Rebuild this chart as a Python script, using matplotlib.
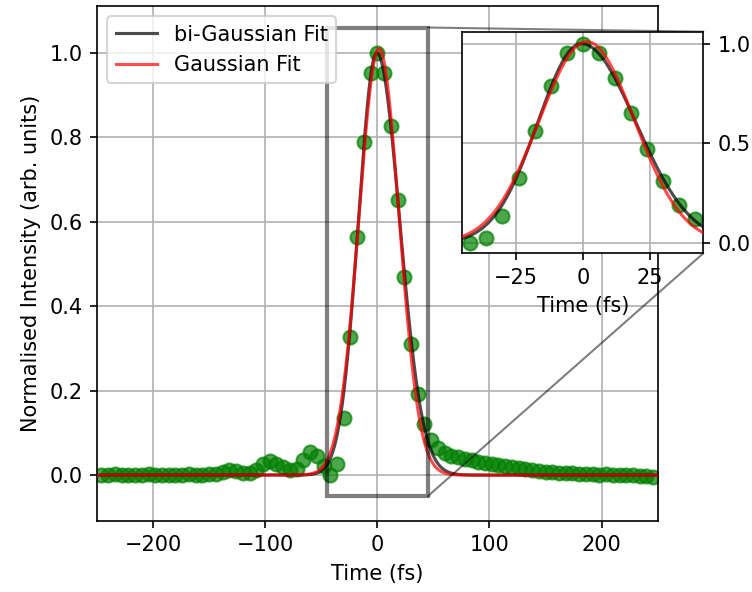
import numpy as np
import matplotlib
matplotlib.use('Agg')
import matplotlib.pyplot as plt
from matplotlib.patches import ConnectionPatch

# ---- data ----
time_fs = list(range(-246, 247, 6))
intensity = [
    0.001, 0.000, 0.002, 0.000, 0.001, 0.000, 0.001, 0.002, 0.000, 0.001,
    0.000, 0.000, 0.001, 0.002, 0.001, 0.000, 0.002, 0.003,
    0.008, 0.012, 0.010, 0.006, 0.004, 0.012, 0.026, 0.033, 0.027, 0.020,
    0.012, 0.014, 0.035, 0.055, 0.045, 0.022, 0.000,
    0.027, 0.135, 0.328, 0.565, 0.788, 0.952, 1.000, 0.952, 0.826, 0.652,
    0.470, 0.310, 0.192, 0.122,
    0.082, 0.064, 0.052, 0.046, 0.042, 0.039, 0.035, 0.031, 0.029, 0.027,
    0.025, 0.022, 0.019, 0.017, 0.014, 0.012, 0.010, 0.008, 0.007, 0.005,
    0.004, 0.004, 0.003, 0.002, 0.002, 0.001, 0.002, 0.001, 0.000, 0.001,
    0.000, -0.001, -0.003, -0.005,
]

# fit parameters
gauss_amp, gauss_t0, gauss_sigma = 1.01, 1.5, 17.9
bigauss_amp, bigauss_t0, bigauss_sig_left, bigauss_sig_right = 1.0, -0.5, 16.3, 20.3

xlim_main = (-250, 250)
ylim_main = (-0.108, 1.111)
xlim_zoom = (-45, 45)
ylim_zoom = (-0.05, 1.06)

t = np.array(time_fs, dtype=float)
y = np.array(intensity)
tf = np.linspace(-250, 250, 2001)
gauss = gauss_amp * np.exp(-(tf - gauss_t0) ** 2 / (2 * gauss_sigma ** 2))
sig = np.where(tf < bigauss_t0, bigauss_sig_left, bigauss_sig_right)
bigauss = bigauss_amp * np.exp(-(tf - bigauss_t0) ** 2 / (2 * sig ** 2))

DPI = 150
fig = plt.figure(figsize=(753 / DPI, 592 / DPI), dpi=DPI)
ax = fig.add_axes([97 / 753, 1 - 520.7 / 592, (657.7 - 97) / 753, (520.7 - 6) / 592])


def draw(a):
    a.scatter(t, y, s=45, color='green', alpha=0.7, zorder=2)
    a.plot(tf, bigauss, color='black', alpha=0.7, lw=1.5, label='bi-Gaussian Fit', zorder=3)
    a.plot(tf, gauss, color='red', alpha=0.7, lw=1.5, label='Gaussian Fit', zorder=3)
    a.grid(True)


draw(ax)
ax.set_xlim(*xlim_main)
ax.set_ylim(*ylim_main)
ax.set_xlabel('Time (fs)')
ax.set_ylabel('Normalised Intensity (arb. units)')
ax.legend(loc='upper left')

axins = fig.add_axes([462.3 / 753, 1 - 253.3 / 592, (703.3 - 462.3) / 753, (253.3 - 31.7) / 592])
draw(axins)
axins.set_xlim(*xlim_zoom)
axins.set_ylim(*ylim_zoom)
axins.set_xticks([-25, 0, 25])
axins.set_yticks([0.0, 0.5, 1.0])
axins.yaxis.tick_right()
axins.set_xlabel('Time (fs)')

ind = ax.indicate_inset_zoom(axins, edgecolor='black', linewidth=2.0)

# connector lines (upper-right and lower-right corners)
for (xa, ya), (xb, yb) in [((xlim_zoom[1], ylim_zoom[1]), (1, 1)),
                           ((xlim_zoom[1], ylim_zoom[0]), (1, 0))]:
    con = ConnectionPatch(xyA=(xa, ya), coordsA=ax.transData,
                          xyB=(xb, yb), coordsB=axins.transAxes,
                          color='black', alpha=0.5, lw=1.0, clip_on=False,
                          zorder=4.99)
    ax.add_artist(con)

fig.savefig('out.png', dpi=DPI)
